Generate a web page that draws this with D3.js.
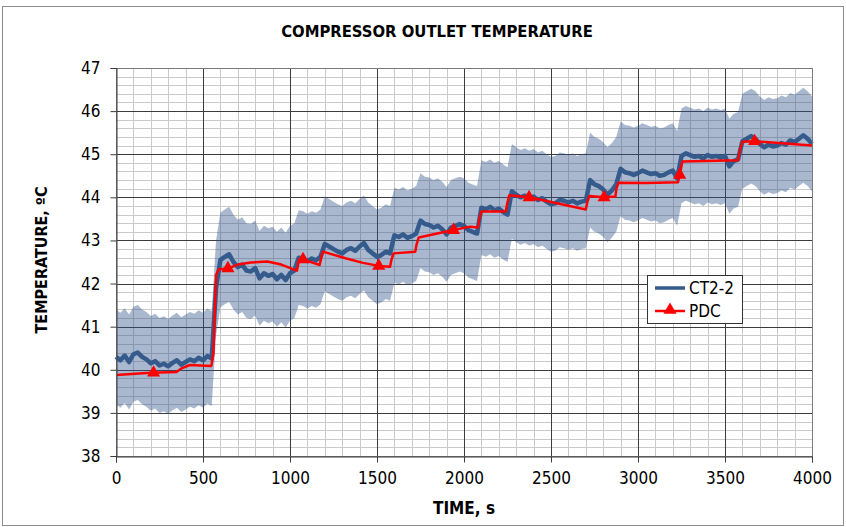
<!DOCTYPE html>
<html>
<head>
<meta charset="utf-8">
<script src="https://d3js.org/d3.v7.min.js"></script>
<style>
  body { margin: 0; background: #fff; }
  text { font-family: "DejaVu Sans Condensed", "DejaVu Sans", sans-serif; font-stretch: condensed; fill: #000; }
</style>
</head>
<body>
<script>
// CT2-2 measured temperature, read every 25 s from the picture
var ct22Time = [0,25,50,75,100,125,150,175,200,225,250,275,300,325,350,375,400,425,450,475,500,525,550,575,
  600,625,650,675,700,725,750,775,800,825,850,875,900,925,950,975,1000,1025,1050,1075,1100,1125,1150,1175,
  1200,1225,1250,1275,1300,1325,1350,1375,1400,1425,1450,1475,1500,1525,1550,1575,1600,1625,1650,1675,1700,1725,
  1750,1775,1800,1825,1850,1875,1900,1925,1950,1975,2000,2025,2050,2075,2100,2125,2150,2175,2200,2225,2250,
  2275,2300,2325,2350,2375,2400,2425,2450,2475,2500,2525,2550,2575,2600,2625,2650,2675,2700,2725,2750,2775,
  2800,2825,2850,2875,2900,2925,2950,2975,3000,3025,3050,3075,3100,3125,3150,3175,3200,3225,3250,3275,3300,
  3325,3350,3375,3400,3425,3450,3475,3500,3525,3550,3575,3600,3625,3650,3675,3700,3725,3750,3775,3800,3825,
  3850,3875,3900,3925,3950,3975,4000];
var ct22Temp = [40.30,40.22,40.33,40.18,40.36,40.40,40.30,40.24,40.15,40.20,40.10,40.14,40.08,40.16,40.22,40.12,40.18,40.24,40.20,40.28,40.22,40.32,40.26,41.90,
  42.55,42.62,42.68,42.50,42.38,42.44,42.30,42.28,42.36,42.12,42.24,42.18,42.22,42.10,42.20,42.08,42.24,42.30,42.60,42.58,42.52,42.58,42.54,42.62,
  42.92,42.86,42.80,42.74,42.70,42.78,42.82,42.76,42.86,42.94,42.78,42.70,42.62,42.66,42.74,42.70,43.12,43.08,43.14,43.06,43.10,43.16,
  43.46,43.38,43.36,43.30,43.34,43.26,43.14,43.30,43.34,43.38,43.34,43.24,43.20,43.16,43.76,43.72,43.78,43.70,43.74,43.66,43.60,
  44.14,44.06,44.00,44.04,43.98,44.02,43.94,43.98,43.90,43.84,43.86,43.94,43.92,43.88,43.92,43.86,43.90,43.92,44.40,44.30,44.26,
  44.18,44.06,44.16,44.30,44.66,44.58,44.56,44.52,44.56,44.62,44.58,44.54,44.56,44.50,44.52,44.58,44.62,44.44,44.96,45.02,44.98,
  44.94,44.96,44.90,44.98,44.94,44.96,44.92,44.96,44.72,44.84,44.88,45.30,45.36,45.42,45.36,45.24,45.16,45.22,45.18,45.20,45.26,
  45.22,45.32,45.28,45.36,45.44,45.36,45.24];
var ct22Uncert = 1.1;   // half-width of the shaded band, °C

// PDC prediction
var pdcTime = [0,200,347,380,424,548,560,575,590,643,700,775,870,950,1040,1052,1075,1170,1180,1190,1324,1420,1510,1575,1583,1595,1720,1727,1740,1940,2035,2080,2088,2100,2240,2248,2260,2374,2700,2708,2720,2805,2870,2876,2888,3050,3230,3240,3255,3575,3585,3600,3670,4000];
var pdcTemp = [39.88,39.93,39.95,40.04,40.11,40.09,40.40,42.20,42.33,42.35,42.44,42.49,42.51,42.44,42.30,42.55,42.56,42.43,42.60,42.74,42.58,42.48,42.41,42.39,42.55,42.70,42.74,42.90,43.07,43.24,43.32,43.30,43.50,43.67,43.67,43.85,44.05,44.00,43.72,43.88,44.03,44.00,44.02,44.20,44.34,44.33,44.35,44.52,44.83,44.86,45.08,45.29,45.30,45.20];
var pdcMarkTime = [216,643,1075,1510,1940,2374,2805,3240,3670];
var pdcMarkTemp = [39.93,42.35,42.56,42.41,43.24,44.00,44.00,44.52,45.30];

var xTicks = [0,500,1000,1500,2000,2500,3000,3500,4000];
var yTicks = [38,39,40,41,42,43,44,45,46,47];

function main(){
    var width = 846, height = 527;
    var left = 116, right = 812, top = 68, bottom = 456;

    var svg = d3.select("body").append("svg")
        .attr("width", width)
        .attr("height", height);

    // outer chart frame
    svg.append("rect")
        .attr("x", 2.5).attr("y", 6.5)
        .attr("width", 841).attr("height", 519)
        .attr("fill", "#fff")
        .attr("stroke", "#8c8c8c");

    var x = d3.scaleLinear().domain([0, 4000]).range([left, right]);
    var y = d3.scaleLinear().domain([38, 47]).range([bottom, top]);

    // minor grid
    var grid = svg.append("g");
    grid.selectAll(".vminor").data(d3.range(100, 4000, 100))
        .enter().append("line")
        .attr("x1", function(d){ return Math.round(x(d)) + 0.5; })
        .attr("x2", function(d){ return Math.round(x(d)) + 0.5; })
        .attr("y1", top).attr("y2", bottom)
        .attr("stroke", "#c9c9c9");
    grid.selectAll(".hminor").data(d3.range(38.2, 47, 0.2))
        .enter().append("line")
        .attr("y1", function(d){ return Math.round(y(d)) + 0.5; })
        .attr("y2", function(d){ return Math.round(y(d)) + 0.5; })
        .attr("x1", left).attr("x2", right)
        .attr("stroke", "#c9c9c9");
    // major grid
    grid.selectAll(".vmajor").data(xTicks)
        .enter().append("line")
        .attr("x1", function(d){ return Math.round(x(d)) + 0.5; })
        .attr("x2", function(d){ return Math.round(x(d)) + 0.5; })
        .attr("y1", top).attr("y2", bottom)
        .attr("stroke", "#3c3c3c");
    grid.selectAll(".hmajor").data(yTicks)
        .enter().append("line")
        .attr("y1", function(d){ return Math.round(y(d)) + 0.5; })
        .attr("y2", function(d){ return Math.round(y(d)) + 0.5; })
        .attr("x1", left).attr("x2", right)
        .attr("stroke", "#3c3c3c");

    var ct22 = ct22Time.map(function(t, i){ return {t: t, v: ct22Temp[i]}; });
    var pdc = pdcTime.map(function(t, i){ return {t: t, v: pdcTemp[i]}; });
    var marks = pdcMarkTime.map(function(t, i){ return {t: t, v: pdcMarkTemp[i]}; });

    // uncertainty band
    svg.append("path")
        .datum(ct22)
        .attr("fill", "rgb(50,85,140)")
        .attr("fill-opacity", 0.42)
        .attr("d", d3.area()
            .x(function(d){ return x(d.t); })
            .y0(function(d){ return y(d.v - ct22Uncert); })
            .y1(function(d){ return y(d.v + ct22Uncert); }));

    // CT2-2 line
    svg.append("path")
        .datum(ct22)
        .attr("fill", "none")
        .attr("stroke", "#345b8c")
        .attr("stroke-width", 4.5)
        .attr("stroke-linejoin", "round")
        .attr("d", d3.line()
            .x(function(d){ return x(d.t); })
            .y(function(d){ return y(d.v); }));

    // PDC line + markers
    svg.append("path")
        .datum(pdc)
        .attr("fill", "none")
        .attr("stroke", "#ff0000")
        .attr("stroke-width", 2.5)
        .attr("stroke-linejoin", "round")
        .attr("d", d3.line()
            .x(function(d){ return x(d.t); })
            .y(function(d){ return y(d.v); }));

    var tri = d3.symbol().type(d3.symbolTriangle).size(75);
    svg.selectAll(".mark").data(marks)
        .enter().append("path")
        .attr("d", tri)
        .attr("transform", function(d){ return "translate(" + x(d.t) + "," + y(d.v) + ")"; })
        .attr("fill", "#ff0000");

    // plot frame
    svg.append("rect")
        .attr("x", left + 0.5).attr("y", top + 0.5)
        .attr("width", right - left).attr("height", bottom - top)
        .attr("fill", "none")
        .attr("stroke", "#7a7a7a");

    // axes
    var yAxis = svg.append("g")
        .attr("transform", "translate(" + (left + 0.5) + ",0)")
        .call(d3.axisLeft(y).tickValues(yTicks).tickSize(6).tickPadding(10).tickFormat(d3.format("d")));
    var xAxis = svg.append("g")
        .attr("transform", "translate(0," + (bottom + 0.5) + ")")
        .call(d3.axisBottom(x).tickValues(xTicks).tickSize(6).tickPadding(9).tickFormat(d3.format("d")));
    [xAxis, yAxis].forEach(function(a){
        a.select(".domain").attr("stroke", "#3c3c3c");
        a.selectAll(".tick line").attr("stroke", "#3c3c3c");
        a.selectAll("text").style("font-size", "17px").attr("fill", "#000");
    });

    // titles
    svg.append("text")
        .attr("x", 437).attr("y", 37)
        .attr("text-anchor", "middle")
        .style("font-size", "16.5px").style("font-weight", "bold")
        .text("COMPRESSOR OUTLET TEMPERATURE");
    svg.append("text")
        .attr("x", 464).attr("y", 514)
        .attr("text-anchor", "middle")
        .style("font-size", "17px").style("font-weight", "bold")
        .text("TIME, s");
    svg.append("text")
        .attr("transform", "translate(47,260) rotate(-90)")
        .attr("text-anchor", "middle")
        .style("font-size", "16px").style("font-weight", "bold")
        .text("TEMPERATURE, ºC");

    // legend
    var lg = svg.append("g");
    lg.append("rect")
        .attr("x", 647.5).attr("y", 275.5)
        .attr("width", 95).attr("height", 48)
        .attr("fill", "#fff")
        .attr("stroke", "#333");
    lg.append("line")
        .attr("x1", 655).attr("x2", 685).attr("y1", 288).attr("y2", 288)
        .attr("stroke", "#345b8c").attr("stroke-width", 3.5);
    lg.append("text").attr("x", 689).attr("y", 294)
        .style("font-size", "17px").text("CT2-2");
    lg.append("line")
        .attr("x1", 655).attr("x2", 685).attr("y1", 311).attr("y2", 311)
        .attr("stroke", "#ff0000").attr("stroke-width", 2.5);
    lg.append("path")
        .attr("d", tri)
        .attr("transform", "translate(670,310)")
        .attr("fill", "#ff0000");
    lg.append("text").attr("x", 689).attr("y", 317)
        .style("font-size", "17px").text("PDC");
}
main();
</script>
</body>
</html>
